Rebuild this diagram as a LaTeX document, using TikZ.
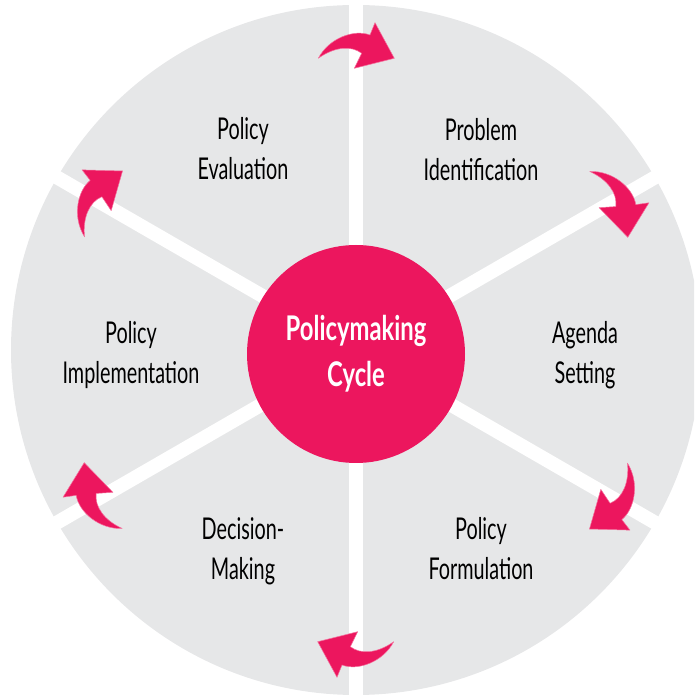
\documentclass[tikz,border=0pt]{standalone}
\usepackage{fontspec}
\setmainfont{Lato}[FakeStretch=0.66]
\newfontfamily\hubfont{Lato}[FakeStretch=0.70]
\definecolor{sector}{RGB}{230,231,232}
\definecolor{hub}{RGB}{236,22,94}
\begin{document}
\begin{tikzpicture}[x=1pt,y=1pt,
  stage/.style={align=center, font=\fontsize{30}{40}\selectfont, text=black, inner sep=0pt},
  hubdisc/.style={circle, fill=hub, minimum size=218pt, inner sep=0pt, align=center,
    text=white, font=\hubfont\bfseries\fontsize{34}{46}\selectfont},
  cyclearrow/.style={fill=hub, draw=hub!60!white, line width=0.5pt, line join=round},
  spoke/.style={draw=white, line width=14pt}]
\useasboundingbox (0,0) rectangle (694,696);
\clip (0,0) rectangle (694,696);
\coordinate (O) at (356,346);

% grey wheel split into six sectors by white spokes
\fill[sector] (O) circle[radius=345];
\foreach \a in {90,30,-30,-90,-150,150}
  \draw[spoke] (O) -- ++(\a:360);

% curved clockwise arrows sitting on the spokes
\foreach \r in {0,-60,...,-300}
  \draw[cyclearrow, shift={(O)}, rotate=\r]
    (-37.7,291.7) .. controls (-27,312) and (-2,321) .. (14,315)
    -- (19,327.3) -- (38.3,291.7) -- (-1.7,281.7) -- (5.7,296.7)
    .. controls (-5,305) and (-22,303) .. cycle;

% central hub
\node[hubdisc] (hub) at (356,342) {Policymaking\\Cycle};

% stage labels
\node[stage] (ident) at (481,546) {Problem\\Identification};
\node[stage] (agenda) at (585,340.5) {Agenda\\Setting};
\node[stage] (formul) at (481,147) {Policy\\Formulation};
\node[stage] (decide) at (243,145) {Decision-\\Making};
\node[stage] (implem) at (131,341) {Policy\\Implementation};
\node[stage] (evalu) at (243,547) {Policy\\Evaluation};
\end{tikzpicture}
\end{document}
